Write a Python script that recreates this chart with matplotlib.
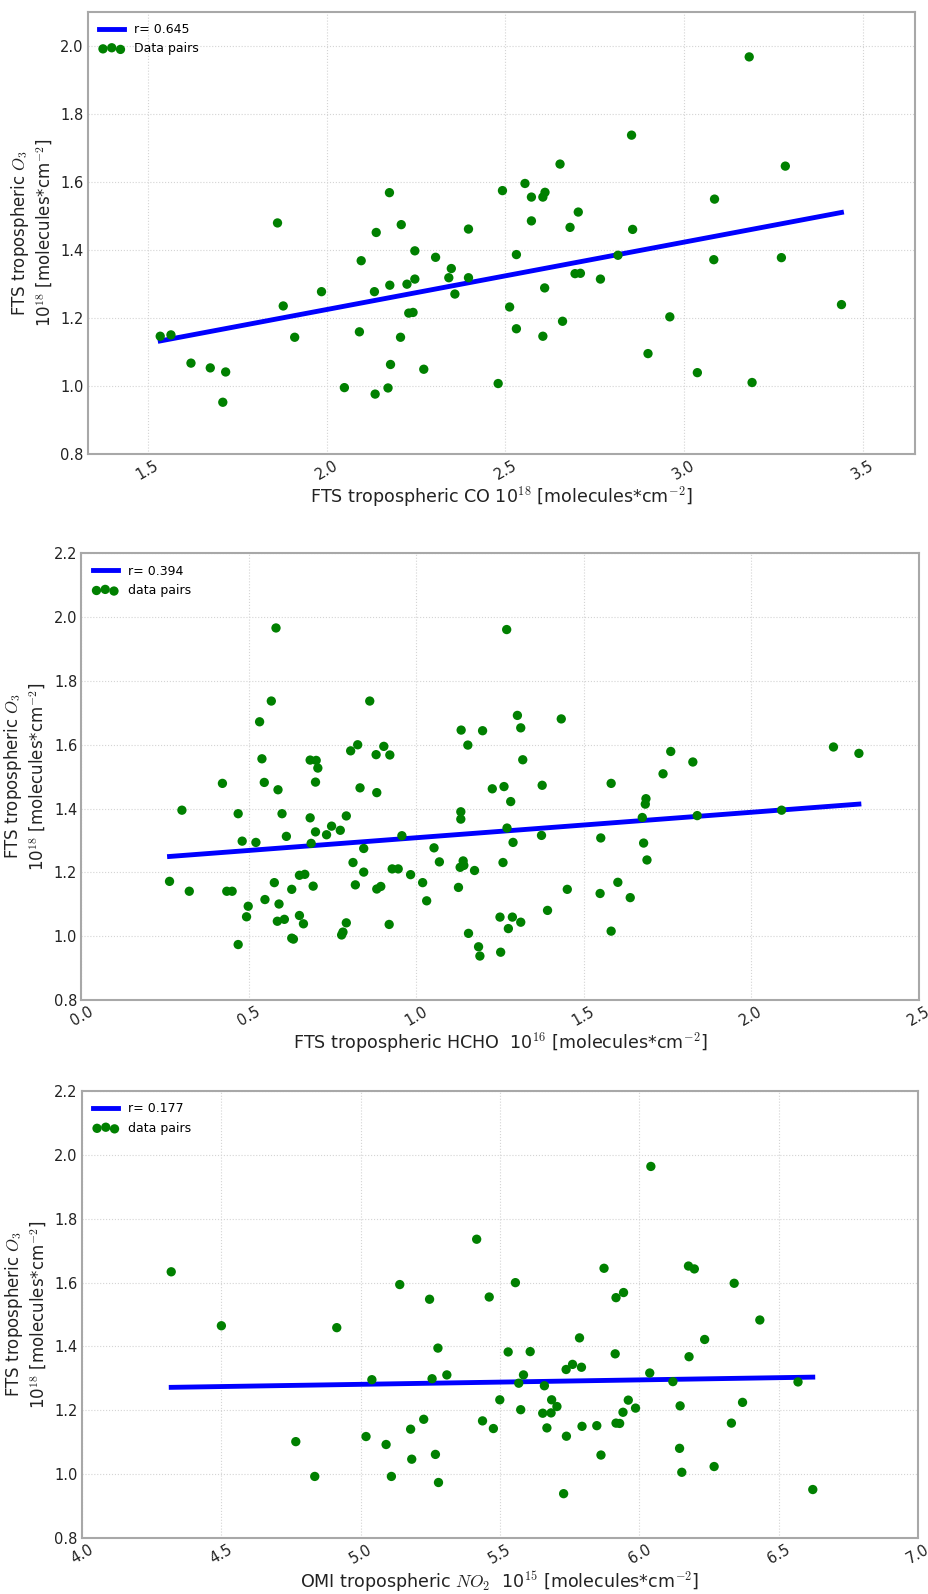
import numpy as np
import matplotlib
matplotlib.use("Agg")
import matplotlib.pyplot as plt

plt.rcParams["mathtext.fontset"] = "cm"

# FTS tropospheric CO vs O3 (10^18)
co_x = [3.182, 2.853, 3.283, 2.653, 2.555, 2.492, 2.176, 2.573, 2.605, 2.611,
        3.085, 2.704, 1.863, 2.139, 2.209, 2.397, 2.573, 2.681, 2.856, 2.247,
        2.097, 2.305, 2.531, 2.815, 3.083, 3.272, 2.349, 2.342, 2.397, 2.247,
        2.695, 2.710, 2.766, 2.177, 2.225, 2.134, 1.986, 2.359, 2.610, 1.879,
        2.512, 2.230, 2.242, 3.440, 2.960, 2.660, 2.531, 1.535, 1.565, 2.092,
        1.911, 2.207, 2.605, 2.899, 1.621, 1.675, 1.718, 2.179, 2.272, 3.037,
        2.480, 3.190, 2.050, 2.172, 2.136, 1.710]
co_o3 = [1.967, 1.737, 1.646, 1.652, 1.595, 1.574, 1.568, 1.555, 1.555, 1.569,
         1.549, 1.511, 1.479, 1.451, 1.474, 1.461, 1.485, 1.466, 1.460, 1.397,
         1.368, 1.378, 1.386, 1.384, 1.371, 1.377, 1.345, 1.318, 1.318, 1.314,
         1.330, 1.331, 1.314, 1.296, 1.299, 1.277, 1.277, 1.270, 1.288, 1.235,
         1.232, 1.214, 1.216, 1.239, 1.203, 1.190, 1.168, 1.146, 1.150, 1.159,
         1.143, 1.143, 1.146, 1.095, 1.067, 1.053, 1.041, 1.063, 1.049, 1.039,
         1.007, 1.010, 0.995, 0.994, 0.976, 0.952]
co_fit = [0.1982, 0.828]   # slope, intercept

# FTS tropospheric HCHO (10^16) vs O3
hcho_x = [0.581, 1.270, 0.567, 0.861, 1.302, 1.433, 0.532, 1.312, 1.134, 1.198,
          1.154, 0.825, 0.903, 0.804, 2.246, 2.322, 1.760, 0.880, 0.921, 0.539,
          0.683, 0.701, 1.318, 1.826, 0.706, 1.737, 0.421, 0.546, 0.699, 1.582,
          0.587, 0.832, 0.882, 1.227, 1.262, 1.376, 1.282, 1.686, 1.684, 0.300,
          0.468, 0.599, 0.791, 0.683, 1.133, 1.133, 2.091, 1.839, 1.675, 0.747,
          0.732, 0.773, 0.699, 0.612, 0.957, 1.374, 1.271, 1.551, 0.480, 0.521,
          0.686, 1.289, 1.679, 0.843, 1.053, 0.811, 1.069, 1.259, 1.140, 1.689,
          1.131, 1.142, 0.843, 0.928, 0.946, 1.174, 0.983, 0.651, 0.667, 0.263,
          0.576, 0.692, 0.818, 1.019, 1.126, 1.602, 0.322, 0.434, 0.450, 0.628,
          0.882, 0.894, 1.451, 1.549, 1.639, 0.548, 1.031, 0.498, 0.590, 1.392,
          0.493, 0.651, 1.250, 1.287, 0.585, 0.606, 0.663, 0.791, 0.919, 1.312,
          1.275, 0.781, 0.777, 1.156, 1.582, 0.628, 0.633, 0.468, 1.186, 1.190,
          1.252]
hcho_o3 = [1.966, 1.961, 1.737, 1.737, 1.692, 1.681, 1.672, 1.653, 1.646, 1.644,
           1.599, 1.600, 1.595, 1.581, 1.593, 1.573, 1.579, 1.569, 1.568, 1.556,
           1.552, 1.551, 1.553, 1.546, 1.527, 1.509, 1.479, 1.482, 1.483, 1.479,
           1.459, 1.465, 1.450, 1.462, 1.469, 1.473, 1.422, 1.431, 1.414, 1.395,
           1.384, 1.384, 1.377, 1.371, 1.390, 1.367, 1.395, 1.378, 1.372, 1.345,
           1.318, 1.332, 1.327, 1.313, 1.315, 1.316, 1.339, 1.308, 1.298, 1.294,
           1.291, 1.294, 1.292, 1.275, 1.277, 1.231, 1.233, 1.231, 1.236, 1.239,
           1.216, 1.222, 1.201, 1.211, 1.211, 1.206, 1.193, 1.191, 1.194, 1.172,
           1.168, 1.157, 1.161, 1.168, 1.153, 1.169, 1.141, 1.141, 1.141, 1.147,
           1.148, 1.156, 1.147, 1.134, 1.121, 1.115, 1.111, 1.094, 1.101, 1.081,
           1.061, 1.065, 1.060, 1.060, 1.047, 1.053, 1.039, 1.042, 1.037, 1.044,
           1.024, 1.013, 1.004, 1.009, 1.016, 0.994, 0.991, 0.974, 0.967, 0.938,
           0.950]
hcho_fit = [0.0797, 1.229]

# OMI tropospheric NO2 (10^15) vs O3
no2_x = [6.041, 5.416, 4.320, 5.873, 6.176, 6.197, 5.140, 5.555, 6.340, 5.247,
         5.461, 5.916, 5.943, 6.432, 4.500, 4.914, 5.785, 6.234, 5.277, 5.529,
         5.608, 5.913, 6.178, 5.760, 5.792, 5.737, 5.040, 5.256, 5.309, 5.584,
         5.567, 5.659, 6.037, 6.120, 6.569, 5.499, 5.685, 5.960, 6.370, 5.574,
         5.704, 5.986, 6.146, 5.653, 5.683, 5.941, 5.226, 5.437, 5.916, 5.929,
         6.330, 5.179, 5.476, 5.668, 5.794, 5.847, 5.019, 5.738, 4.767, 5.091,
         6.144, 5.183, 5.268, 5.862, 6.268, 6.152, 4.835, 5.110, 5.279, 5.728,
         6.622]
no2_o3 = [1.964, 1.736, 1.634, 1.645, 1.652, 1.643, 1.594, 1.600, 1.598, 1.548,
          1.555, 1.553, 1.569, 1.483, 1.465, 1.459, 1.427, 1.422, 1.395, 1.383,
          1.384, 1.377, 1.368, 1.344, 1.335, 1.328, 1.296, 1.299, 1.311, 1.311,
          1.285, 1.277, 1.317, 1.290, 1.289, 1.233, 1.233, 1.232, 1.225, 1.202,
          1.212, 1.207, 1.214, 1.191, 1.192, 1.194, 1.172, 1.167, 1.160, 1.159,
          1.160, 1.141, 1.143, 1.145, 1.150, 1.152, 1.118, 1.119, 1.102, 1.093,
          1.081, 1.047, 1.062, 1.060, 1.024, 1.006, 0.993, 0.993, 0.974, 0.939,
          0.952]
no2_fit = [0.0139, 1.212]

ylab = "FTS tropospheric $O_3$\n10$^{18}$ [molecules*cm$^{-2}$]"

panels = [
    (co_x, co_o3, co_fit, "r= 0.645", "Data pairs",
     "FTS tropospheric CO 10$^{18}$ [molecules*cm$^{-2}$]",
     (1.333, 3.645), (0.8, 2.1), [1.5, 2.0, 2.5, 3.0, 3.5],
     [0.0947, 0.7152, 0.890, 0.2775]),
    (hcho_x, hcho_o3, hcho_fit, "r= 0.394", "data pairs",
     "FTS tropospheric HCHO  10$^{16}$ [molecules*cm$^{-2}$]",
     (0.0, 2.5), (0.8, 2.2), [0.0, 0.5, 1.0, 1.5, 2.0, 2.5],
     [0.0877, 0.3726, 0.901, 0.2803]),
    (no2_x, no2_o3, no2_fit, "r= 0.177", "data pairs",
     "OMI tropospheric $NO_2$  10$^{15}$ [molecules*cm$^{-2}$]",
     (4.0, 7.0), (0.8, 2.2), [4.0, 4.5, 5.0, 5.5, 6.0, 6.5, 7.0],
     [0.0883, 0.0351, 0.900, 0.2804]),
]

fig = plt.figure(figsize=(9.29, 15.94), dpi=100)

for xs, ys, fit, rlab, dlab, xlab, xlim, ylim, xt, pos in panels:
    ax = fig.add_axes(pos)
    xs = np.array(xs)
    xx = np.array([xs.min(), xs.max()])
    ax.plot(xx, fit[0] * xx + fit[1], color="b", lw=3.5, label=rlab, zorder=2)
    ax.scatter(xs, ys, s=45, color="g", edgecolors="none", label=dlab, zorder=3)
    ax.set_xlim(xlim)
    ax.set_ylim(ylim)
    ax.set_xticks(xt)
    ax.set_xticklabels(["%.1f" % v for v in xt], rotation=30)
    yt = np.arange(ylim[0], ylim[1] + 0.001, 0.2)
    ax.set_yticks(yt)
    ax.set_yticklabels(["%.1f" % v for v in yt])
    ax.tick_params(labelsize=10.5, length=0, pad=3, colors="#222222")
    ax.grid(True, ls=":", color="#d4d4d4", lw=0.8)
    ax.set_axisbelow(True)
    for sp in ax.spines.values():
        sp.set_color("#a8a8a8")
        sp.set_linewidth(1.5)
    ax.set_xlabel(xlab, fontsize=12.6, color="#222222", labelpad=2)
    ax.set_ylabel(ylab, fontsize=12, color="#222222")
    # y label sits close to the tick labels, as in the original
    ax.yaxis.set_label_coords(-0.04, 0.5)
    ax.legend(loc="upper left", frameon=False, fontsize=9, scatterpoints=3,
              scatteryoffsets=[0.375, 0.5, 0.3125], handlelength=2.0)

fig.savefig("out.png", dpi=100)
